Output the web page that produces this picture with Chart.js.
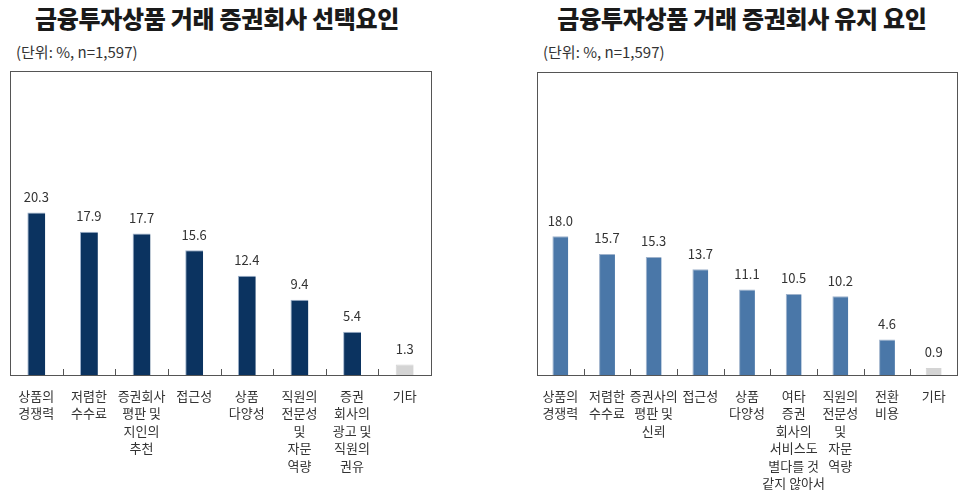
<!DOCTYPE html>
<html>
<head>
<meta charset="utf-8">
<script src="https://cdn.jsdelivr.net/npm/chart.js@4"></script>
<style>
  body { margin: 0; background: #fff; width: 968px; height: 493px; position: relative; overflow: hidden;
         font-family: "Noto Sans CJK KR", "Noto Sans", sans-serif; color: #222; }
  .title { position: absolute; top: 0px; font-size: 24px; font-weight: 900; text-align: center; color: #1a1a1a; letter-spacing: -0.3px; }
  .unit { position: absolute; top: 41px; font-size: 15px; color: #333; }
  .wrap { position: absolute; top: 60px; height: 433px; }
</style>
</head>
<body>
<div class="title" style="left:0; width:434px;">금융투자상품 거래 증권회사 선택요인</div>
<div class="title" style="left:522px; width:440px;">금융투자상품 거래 증권회사 유지 요인</div>
<div class="unit" style="left:16px;">(단위: %, n=1,597)</div>
<div class="unit" style="left:543px;">(단위: %, n=1,597)</div>
<div class="wrap" style="left:0; width:445px;"><canvas id="left"></canvas></div>
<div class="wrap" style="left:523px; width:445px;"><canvas id="right"></canvas></div>
<script>
// 선택요인
const selectLabels = [
  ['상품의', '경쟁력'],
  ['저렴한', '수수료'],
  ['증권회사', '평판 및', '지인의', '추천'],
  ['접근성'],
  ['상품', '다양성'],
  ['직원의', '전문성', '및', '자문', '역량'],
  ['증권', '회사의', '광고 및', '직원의', '권유'],
  ['기타']
];
const selectValues = [20.3, 17.9, 17.7, 15.6, 12.4, 9.4, 5.4, 1.3];

// 유지 요인
const keepLabels = [
  ['상품의', '경쟁력'],
  ['저렴한', '수수료'],
  ['증권사의', '평판 및', '신뢰'],
  ['접근성'],
  ['상품', '다양성'],
  ['여타', '증권', '회사의', '서비스도', '별다를 것', '같지 않아서'],
  ['직원의', '전문성', '및', '자문', '역량'],
  ['전환', '비용'],
  ['기타']
];
const keepValues = [18.0, 15.7, 15.3, 13.7, 11.1, 10.5, 10.2, 4.6, 0.9];

const boxPlugin = {
  id: 'box',
  afterDraw(chart) {
    const { ctx, chartArea: a } = chart;
    const x = chart.scales.x;
    ctx.save();
    ctx.strokeStyle = '#555';
    ctx.lineWidth = 1;
    ctx.strokeRect(Math.round(a.left) + 0.5, Math.round(a.top) + 0.5,
                   Math.round(a.right - a.left), Math.round(a.bottom - a.top));
    // small inner ticks between categories
    ctx.beginPath();
    for (let i = 1; i < chart.data.labels.length; i++) {
      const px = Math.round((x.getPixelForValue(i - 1) + x.getPixelForValue(i)) / 2) + 0.5;
      ctx.moveTo(px, a.bottom);
      ctx.lineTo(px, a.bottom - 6);
    }
    ctx.stroke();
    // value labels
    ctx.fillStyle = '#333';
    ctx.font = '13px "Noto Sans CJK KR", "Noto Sans", sans-serif';
    ctx.textAlign = 'center';
    ctx.textBaseline = 'bottom';
    const meta = chart.getDatasetMeta(0);
    meta.data.forEach((bar, i) => {
      const v = chart.data.datasets[0].data[i];
      ctx.fillText(v.toFixed(1), bar.x, bar.y - 9);
    });
    ctx.restore();
  }
};

function makeChart(id, labels, values, color, yMax, pad) {
  const colors = values.map((v, i) => i === values.length - 1 ? '#d4d4d4' : color);
  return new Chart(document.getElementById(id), {
    type: 'bar',
    data: {
      labels: labels,
      datasets: [{
        data: values,
        backgroundColor: colors,
        borderColor: colors.map(c => c === '#d4d4d4' ? '#d4d4d4' : '#9fb3cc'),
        borderWidth: { top: 1, left: 1, right: 0, bottom: 0 },
        categoryPercentage: 1,
        barPercentage: 0.34
      }]
    },
    options: {
      responsive: true,
      maintainAspectRatio: false,
      animation: false,
      layout: { padding: pad },
      plugins: { legend: { display: false }, tooltip: { enabled: false } },
      scales: {
        y: { display: false, min: 0, max: yMax },
        x: {
          grid: { display: false, drawTicks: false },
          border: { display: false },
          ticks: {
            color: '#333',
            padding: 12,
            autoSkip: false,
            maxRotation: 0,
            font: { size: 13, family: '"Noto Sans CJK KR", "Noto Sans", sans-serif', lineHeight: 1.35 }
          },
          afterFit: s => { s.height = 118; }
        }
      }
    },
    plugins: [boxPlugin]
  });
}

makeChart('left', selectLabels, selectValues, '#0b3360', 38, { left: 10, right: 14, top: 11, bottom: 0 });
makeChart('right', keepLabels, keepValues, '#4a77a8', 39.3, { left: 14, right: 11, top: 12, bottom: 0 });
</script>
</body>
</html>
